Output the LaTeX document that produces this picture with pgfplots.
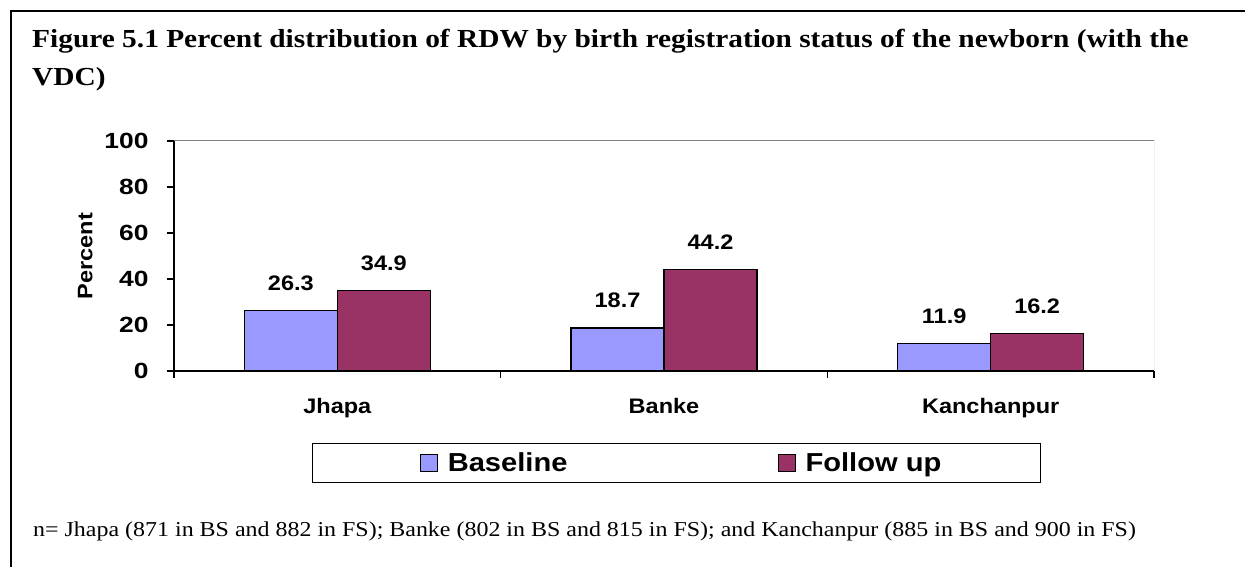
\documentclass[border=0pt]{standalone}
\usepackage{fontspec}
\setmainfont{Liberation Serif}[FakeStretch=1.13]
\setsansfont{Liberation Sans}[FakeStretch=1.12]
\newfontfamily\mytkfamily{Liberation Sans}[FakeStretch=1.2]
\usepackage{pgfplots}
\pgfplotsset{compat=1.18}
\definecolor{baseC}{HTML}{9999FF}
\definecolor{followC}{HTML}{993366}
\newcommand{\axfont}{\sffamily\bfseries\fontsize{21}{25}\selectfont}
\newcommand{\tkfont}{\mytkfamily\bfseries\fontsize{22}{26}\selectfont}
\begin{document}
\begin{tikzpicture}[x=1pt,y=1pt]
\useasboundingbox (0,0) rectangle (1245,567);
\draw[line width=2pt] (11,0) -- (11,556) -- (1245,556);
\node[anchor=base west, font=\fontsize{26}{30}\selectfont\bfseries, inner sep=0pt] at (32,519)
  {Figure 5.1 Percent distribution of RDW by birth registration status of the newborn (with the};
\node[anchor=base west, font=\fontsize{26}{30}\selectfont\bfseries, inner sep=0pt] at (32,481) {VDC)};
\node[anchor=base west, font=\fontsize{21.2}{25}\selectfont, inner sep=0pt] at (33,30)
  {n= Jhapa (871 in BS and 882 in FS); Banke (802 in BS and 815 in FS); and Kanchanpur (885 in BS and 900 in FS)};
\begin{axis}[
  at={(174pt,196pt)}, anchor=south west,
  scale only axis, width=980pt, height=230pt,
  ybar=0pt, bar width=93pt,
  xmin=-0.5, xmax=2.5, ymin=0, ymax=100,
  xtick={-0.5,0.5,1.5,2.5}, x tick label as interval,
  xticklabels={Jhapa,Banke,Kanchanpur},
  ytick={0,20,40,60,80,100},
  tick align=outside, major tick length=7pt,
  axis x line*=bottom, axis y line*=left,
  axis line style={black, line width=1.3pt},
  tick style={black, line width=1.2pt},
  /pgf/number format/assume math mode=true,
  xticklabel style={font=\axfont, yshift=-17pt},
  yticklabel style={font=\tkfont, xshift=-15pt},
  ylabel={Percent},
  ylabel style={at={(axis description cs:-0.0905,0.5)}, anchor=center, font=\axfont},
  nodes near coords,
  every node near coord/.append style={font=\axfont, anchor=base, yshift=20pt},
  legend columns=2,
  legend style={at={(axis description cs:0.5128,-0.4)}, anchor=center, draw=black, line width=1.2pt,
    inner xsep=97pt, inner ysep=7pt, font=\sffamily\bfseries\fontsize{26}{30}\selectfont,
    /tikz/every odd column/.append style={column sep=8pt},
    /tikz/every even column/.append style={column sep=208pt}},
]
\addplot[fill=baseC, draw=black, line width=1.2pt,
  legend image code/.code={\path (-10pt,0pt); \draw[fill=baseC, draw=black, line width=1pt] (0pt,-8.5pt) rectangle (17pt,8.5pt);}]
  coordinates {(0,26.3) (1,18.7) (2,11.9)};
\addlegendentry{Baseline}
\addplot[fill=followC, draw=black, line width=1.2pt,
  legend image code/.code={\draw[fill=followC, draw=black, line width=1pt] (0pt,-8.5pt) rectangle (17pt,8.5pt);}]
  coordinates {(0,34.9) (1,44.2) (2,16.2)};
\addlegendentry{Follow up}
\draw[color=gray, line width=1pt] (rel axis cs:0,1) -- (rel axis cs:1,1) -- (rel axis cs:1,0);
\end{axis}
\end{tikzpicture}
\end{document}
